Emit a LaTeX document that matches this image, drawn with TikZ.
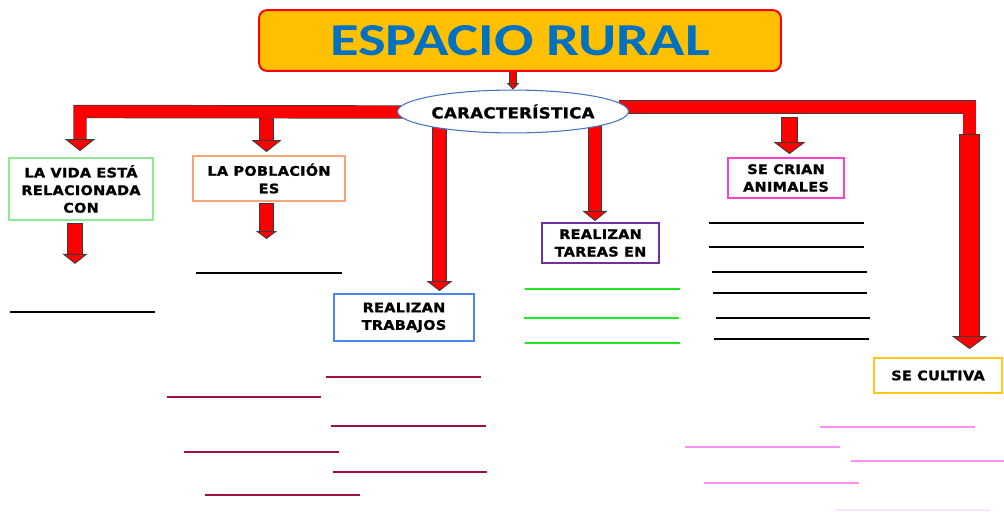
\documentclass[tikz,border=0pt]{standalone}
\usepackage{fontspec}
\setmainfont{DejaVu Sans}
\newfontfamily\cajafont{DejaVu Sans}[FakeStretch=1.1,LetterSpace=2,FakeBold=1.2]
\newfontfamily\titulofont{Carlito}[FakeStretch=1.28]
\usetikzlibrary{calc,shapes.geometric,arrows.meta,backgrounds}

\definecolor{naranja}{HTML}{FFC000}
\definecolor{azultitulo}{HTML}{0070C0}
\definecolor{azulelipse}{HTML}{4472C4}
\definecolor{verdecaja}{HTML}{92E892}
\definecolor{salmon}{HTML}{F5A47C}
\definecolor{azulcaja}{HTML}{4A86F0}
\definecolor{morado}{HTML}{7030A0}
\definecolor{rosa}{HTML}{FF3FCF}
\definecolor{amarillo}{HTML}{FFC819}
\definecolor{verdelinea}{HTML}{1EEB1E}
\definecolor{granate}{HTML}{A3103F}
\definecolor{rosalinea}{HTML}{FF90F2}
\definecolor{rosapalido}{HTML}{FCE4FA}
\definecolor{contorno}{HTML}{3A3A3A}

\begin{document}
\begin{tikzpicture}[x=0.02cm, y=-0.02cm, auto,
    caja/.style={rectangle, draw, line width=1.2pt, fill=white, inner sep=0pt, align=center,
      font=\cajafont\bfseries\fontsize{7.5}{10}\selectfont},
    flecha/.style n args={3}{draw=red, line width=#1,
      -{Triangle[width=#2, length=#3, fill=red, color=contorno, line width=0.5pt]},
      preaction={draw=contorno, line width=#1+0.8pt, -, shorten >=#3-1pt, shorten <=-0.4pt}},
    barra/.style={draw=red, line width=#1, preaction={draw=contorno, line width=#1+0.8pt}},
    renglon/.style={line width=1.2pt}]
   \useasboundingbox (0,0) rectangle (1004,511);

   \node[draw=red, line width=1.1pt, fill=naranja, rounded corners=4.5pt, minimum width=297pt,
     minimum height=34.6pt, text=azultitulo, font=\titulofont\bfseries\fontsize{26}{28}\selectfont]
     (titulo) at (520,40.5) {ESPACIO RURAL\hspace{10pt}};
   \node[ellipse, draw=azulelipse, line width=0.6pt, fill=white, minimum width=131.5pt,
     minimum height=24.4pt, inner sep=0pt, font=\cajafont\bfseries\fontsize{8.6}{10}\selectfont]
     (carac) at (513,111.5) {CARACTERÍSTICA};

   \node[caja, draw=verdecaja, minimum width=81.6pt, minimum height=35.1pt] (vida) at (81,189) {LA VIDA ESTÁ\\RELACIONADA\\CON};
   \node[caja, draw=salmon, minimum width=86.2pt, minimum height=25.5pt] (poblacion) at (269,178.5) {LA POBLACIÓN\\ES};
   \node[caja, draw=azulcaja, minimum width=79.4pt, minimum height=26.6pt] (trabajos) at (404,317.5) {REALIZAN\\TRABAJOS};
   \node[caja, draw=morado, minimum width=66.3pt, minimum height=22.7pt] (tareas) at (600.5,243) {REALIZAN\\TAREAS EN};
   \node[caja, draw=rosa, minimum width=65.8pt, minimum height=22.7pt] (animales) at (786,178) {SE CRIAN\\ANIMALES};
   \node[caja, draw=amarillo, minimum width=72.6pt, minimum height=19.8pt] (cultiva) at (938,375.5) {SE CULTIVA};

   \begin{scope}[on background layer]
   \coordinate (pvida) at ($(vida.north)+(-1,-6)$);
   \coordinate (ppob) at ($(poblacion.north)+(-2.5,-3)$);
   \coordinate (ptrab) at ($(trabajos.north)+(35.5,-2)$);
   \coordinate (ptareas) at ($(tareas.north)+(-5.5,-1)$);
   \coordinate (panim) at ($(animales.north)+(3.5,-3)$);
   \coordinate (pcult) at ($(cultiva.north)+(31.5,-8)$);
   \coordinate (codo) at ($(carac.east -| pcult)+(0,-4.5)$);
   \coordinate (bcult) at ($(codo)+(0,28)$);

   \draw[flecha={3.4pt}{7pt}{3.6pt}] (titulo.south -| carac.north) -- (carac.north);
   \draw[flecha={7.4pt}{17pt}{6.8pt}] (ppob |- carac.west) -- (ppob);
   \draw[flecha={7.4pt}{14.7pt}{5.7pt}] (ptrab |- carac.center) -- (ptrab);
   \draw[flecha={6.8pt}{14.2pt}{5.7pt}] (ptareas |- carac.center) -- (ptareas);
   \draw[flecha={8.5pt}{18.1pt}{6.8pt}] ($(panim |- codo)+(0,11)$) -- (panim);
   \draw[flecha={6.8pt}{17pt}{6.8pt}] ($(carac.west)+(10,0.5)$) -- (pvida |- carac.west) -- (pvida);
   \draw[barra=7pt] ($(carac.east)+(-10,-4.5)$) -- (codo) -- (bcult);
   \draw[flecha={11.3pt}{20pt}{7.4pt}] (bcult) -- (pcult);
   \draw[flecha={7.9pt}{14.2pt}{5.7pt}] ($(vida.south)+(-6,3)$) -- ($(vida.south)+(-6,43)$);
   \draw[flecha={7.4pt}{11.9pt}{4.5pt}] ($(poblacion.south)+(-2.5,2)$) -- ($(poblacion.south)+(-2.5,37)$);
   \end{scope}

   \draw[renglon] (196,273) -- (342,273);
   \draw[renglon] (10,312) -- (155,312);
   \draw[renglon] (709,223) -- (864,223);
   \draw[renglon] (709,247) -- (864,247);
   \draw[renglon] (712,272) -- (867,272);
   \draw[renglon] (713,293) -- (867,293);
   \draw[renglon] (716,318) -- (870,318);
   \draw[renglon] (714,339) -- (869,339);

   \draw[renglon, verdelinea] (525,289) -- (680,289);
   \draw[renglon, verdelinea] (524,318) -- (679,318);
   \draw[renglon, verdelinea] (525,343) -- (680,343);

   \draw[renglon, granate] (326,377) -- (481,377);
   \draw[renglon, granate] (167,397) -- (321,397);
   \draw[renglon, granate] (331,426) -- (486,426);
   \draw[renglon, granate] (184,452) -- (339,452);
   \draw[renglon, granate] (333,472) -- (487,472);
   \draw[renglon, granate] (205,495) -- (360,495);

   \draw[renglon, rosalinea] (820,427) -- (975,427);
   \draw[renglon, rosalinea] (685,447) -- (840,447);
   \draw[renglon, rosalinea] (851,461) -- (1004,461);
   \draw[renglon, rosalinea] (704,483) -- (859,483);
   \draw[renglon, rosapalido] (835,510) -- (990,510);
 \end{tikzpicture}
\end{document}
